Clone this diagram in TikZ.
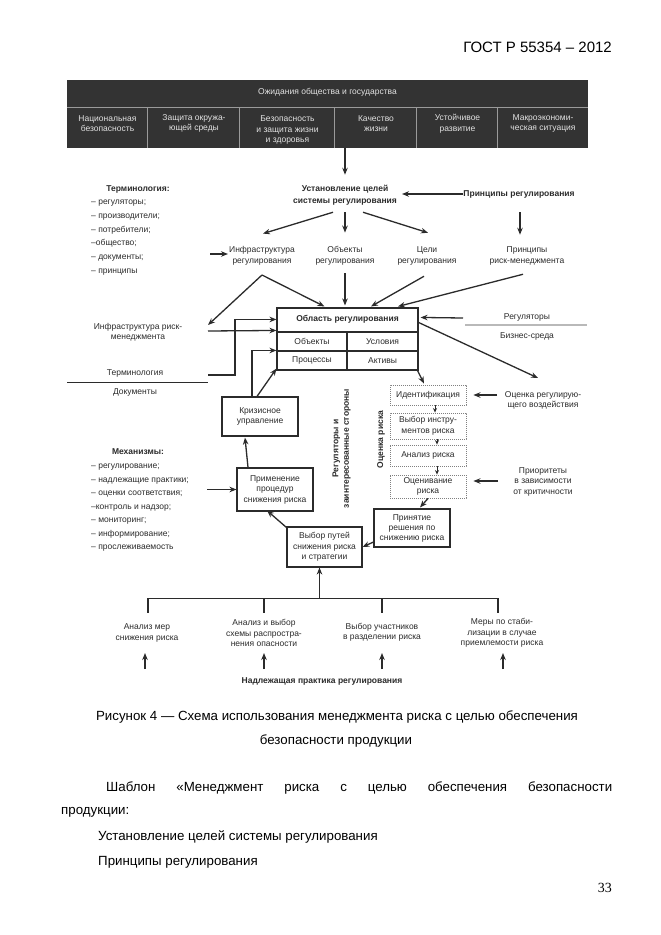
\documentclass[tikz,border=0pt]{standalone}
\usepackage{fontspec}
\setmainfont{Liberation Sans}
\newfontfamily\pagenumfont{Liberation Serif}
\usetikzlibrary{arrows.meta,calc}
\definecolor{ink}{HTML}{2B2B2B}
\definecolor{hdrfill}{HTML}{333333}
\definecolor{hdrtext}{HTML}{E2E2E2}
\definecolor{hdrline}{HTML}{9A9A9A}
\tikzset{
  dtxt/.style={font=\fontsize{8.5}{10.5}\selectfont, text=ink, inner sep=0pt, align=center},
  dbold/.style={dtxt, font=\bfseries\fontsize{8.5}{10.5}\selectfont},
  conn/.style={draw=ink, line width=1.3pt},
  arr/.style={conn, -{Stealth[length=7pt,width=5.5pt]}},
  sarr/.style={draw=ink, line width=1pt, -{Stealth[length=4.5pt,width=4pt]}},
  bx/.style={dtxt, draw=ink, line width=1.1pt},
  dbx/.style={dtxt, draw=black!50, line width=0.9pt, dash pattern=on 1.2pt off 0.8pt},
  htxt/.style={dtxt, text=hdrtext},
  pagetxt/.style={font=\fontsize{13.3}{16}\selectfont, text=black, inner sep=0pt},
}
\begin{document}
\begin{tikzpicture}[x=1pt,y=-1pt]
\useasboundingbox (0,0) rectangle (661,935);
\fill[white] (0,0) rectangle (661,935);

% page header
\node[pagetxt, font=\fontsize{15}{18}\selectfont, anchor=east] (gost) at (612,47) {ГОСТ Р 55354 – 2012};

% dark header table
\node[fill=hdrfill, minimum width=521pt, minimum height=68pt, inner sep=0pt] (hdr) at (327.5,114) {};
\draw[hdrline, line width=0.8pt] ($(hdr.north west)+(0,28)$) -- ($(hdr.north east)+(0,28)$);
\foreach \dx in {81,173,268,350,431}
  \draw[hdrline, line width=0.8pt] ($(hdr.north west)+(\dx,28)$) -- ($(hdr.south west)+(\dx,0)$);
\node[htxt] (hdrT) at (327.5,92.5) {Ожидания общества и государства};
\node[htxt] (h1) at (107.5,123.5) {Национальная\\безопасность};
\node[htxt] (h2) at (194,123.5) {Защита окружа-\\ющей среды};
\node[htxt] (h3) at (287.5,130) {Безопасность\\и защита жизни\\и здоровья};
\node[htxt] (h4) at (376,123.5) {Качество\\жизни};
\node[htxt] (h5) at (457.5,123.5) {Устойчивое\\развитие};
\node[htxt] (h6) at (543,123.5) {Макроэкономи-\\ческая ситуация};

% upper level
\node[dbold] (ust) at (345,195) {Установление целей\\[1.5pt]системы регулирования};
\node[dbold] (princReg) at (519,194) {Принципы регулирования};
\node[dtxt] (infReg) at (262,256) {Инфраструктура\\регулирования};
\node[dtxt] (objReg) at (345,256) {Объекты\\регулирования};
\node[dtxt] (celiReg) at (427,256) {Цели\\регулирования};
\node[dtxt] (princRM) at (527,256) {Принципы\\риск-менеджмента};

% terminology list
\node[dbold] (termTitle) at (138,189) {Терминология:};
\node[dtxt, font=\fontsize{8.5}{13.7}\selectfont, align=left, anchor=west] (termList) at (91,237.5)
  {– регуляторы;\\– производители;\\– потребители;\\–общество;\\– документы;\\– принципы};

\node[dtxt] (irm) at (138,332.5) {Инфраструктура риск-\\менеджмента};
\node[dtxt] (termT) at (135,373) {Терминология};
\node[dtxt] (docT) at (135,392) {Документы};

% scope of regulation box
\node[draw=ink, line width=1.1pt, minimum width=141pt, minimum height=62pt, inner sep=0pt] (obl) at (347.5,339) {};
\node[dbold] (oblT) at (347.5,319.5) {Область регулирования};
\node[bx, minimum width=70pt, minimum height=19pt] (objC) at (312,341.5) {Объекты};
\node[bx, minimum width=71pt, minimum height=19pt] (uslC) at (382.5,341.5) {Условия};
\node[bx, minimum width=70pt, minimum height=19pt] (procC) at (312,360.5) {Процессы};
\node[bx, minimum width=71pt, minimum height=19pt] (aktC) at (382.5,360.5) {Активы};

\node[dtxt] (regT) at (527,317) {Регуляторы};
\node[dtxt] (bizT) at (527,336) {Бизнес-среда};
\node[dtxt] (orv) at (543,400.5) {Оценка регулирую-\\щего воздействия};

% risk assessment
\node[dbx, minimum width=76pt, minimum height=20pt] (ident) at (428,395) {Идентификация};
\node[dbx, minimum width=76pt, minimum height=26pt] (vin) at (428,426) {Выбор инстру-\\ментов риска};
\node[dbx, minimum width=76pt, minimum height=21pt] (anr) at (428,455.5) {Анализ риска};
\node[dbx, minimum width=76pt, minimum height=23pt, font=\fontsize{8.5}{10}\selectfont] (ocr) at (428,486.5) {Оценивание\\риска};
\node[dtxt] (prio) at (543,481.5) {Приоритеты\\в зависимости\\от критичности};

\node[bx, minimum width=76pt, minimum height=39pt] (krz) at (260,416.5) {Кризисное\\управление};
\node[bx, minimum width=76pt, minimum height=43pt] (prim) at (275,489.5) {Применение\\процедур\\снижения риска};
\node[bx, minimum width=75pt, minimum height=40pt] (vyb) at (324.5,547) {Выбор путей\\снижения риска\\и стратегии};
\node[bx, minimum width=76pt, minimum height=38pt, font=\fontsize{8.5}{10}\selectfont] (prin) at (412,528) {Принятие\\решения по\\снижению риска};

\node[dbold, rotate=90] (regZS) at (341.5,448.5) {Регуляторы и\\заинтересованные стороны};
\node[dbold, rotate=90] (ocrT) at (381,439.5) {Оценка риска};

% mechanisms
\node[dbold] (mechTitle) at (138,452) {Механизмы:};
\node[dtxt, font=\fontsize{8.5}{13.5}\selectfont, align=left, anchor=west] (mechList) at (91,508)
  {– регулирование;\\– надлежащие практики;\\– оценки соответствия;\\–контроль и надзор;\\– мониторинг;\\– информирование;\\– прослеживаемость};

% bottom
\node[dtxt] (bA) at (147,633) {Анализ мер\\снижения риска};
\node[dtxt] (bB) at (264,633) {Анализ и выбор\\схемы распростра-\\нения опасности};
\node[dtxt] (bC) at (382,632.5) {Выбор участников\\в разделении риска};
\node[dtxt] (bD) at (502,633) {Меры по стаби-\\лизации в случае\\приемлемости риска};
\node[dbold] (npr) at (322,681) {Надлежащая практика регулирования};

% caption and body
\node[pagetxt] (cap1) at (337,717) {Рисунок 4 — Схема использования менеджмента риска с целью обеспечения};
\node[pagetxt] (cap2) at (336,741) {безопасности продукции};
\node[pagetxt, anchor=west] (body1) at (106,788) {\makebox[506pt][s]{Шаблон «Менеджмент риска с целью обеспечения безопасности}};
\node[pagetxt, anchor=west] (body2) at (61,812) {продукции:};
\node[pagetxt, anchor=west] (body3) at (98,837) {Установление целей системы регулирования};
\node[pagetxt, anchor=west] (body4) at (98,862) {Принципы регулирования};
\node[pagetxt, font=\pagenumfont\fontsize{14}{16}\selectfont, anchor=east] (pnum) at (612,888) {33};

% ---------- connectors ----------
\draw[arr] (hdr.south -| ust) -- ($(ust.north)+(0,-10)$);
\draw[arr] ($(princReg)+(-56,0)$) -- ($(ust)+(57,-1)$);
\draw[arr] ($(ust.south)+(0,7)$) -- ($(objReg.north)+(0,-14)$);
\draw[arr] ($(ust.south)+(18,7)$) -- ($(celiReg.north)+(1,-14)$);
\draw[arr] ($(ust.south)+(-12,7)$) -- ($(infReg.north)+(1,-13)$);
\draw[arr] ($(princReg.south)+(1,14)$) -- ($(princReg.south |- princRM.north)+(1,-12)$);
\draw[arr] ($(infReg)+(-52,-2)$) -- ($(infReg)+(-34,-2)$);

\coordinate (vtop) at ($(infReg)+(0,19)$);
\draw[arr] (vtop) -- ($(irm)+(70,-7.5)$);
\draw[arr] (vtop) -- ($(obl.north west)+(48,-1)$);
\draw[arr] ($(objReg.south)+(0,8)$) -- ($(objReg.south |- obl.north)+(0,-2)$);
\draw[arr] ($(celiReg.south)+(-3,11)$) -- ($(obl.north)+(23.5,-1)$);
\draw[arr] ($(princRM.south)+(-4,9)$) -- ($(obl.north)+(50.5,-1)$);

\draw[arr] ($(regT)+(-64,1)$) -- ($(obl.north east)+(2,10)$);
\draw[gray!55, line width=2pt] ($(regT)+(-62,8)$) -- ($(regT)+(60,8)$);
\draw[arr] ($(obl.north east)+(0,15)$) -- ($(orv)+(-5,-22.5)$);
\draw[arr] ($(orv)+(-46,-5.5)$) -- ($(ident.east)+(7,0)$);

\draw[arr] ($(termT)+(73,2)$) -- ++(27,0) |- ($(obl.north west)+(0,12)$);
\draw[ink, line width=0.9pt] ($(termT)+(-68,9)$) -- ++(141,0);
\draw[arr] ($(irm)+(70,-1.5)$) -- ($(obl.north west)+(0,23)$);
\draw[arr] ($(krz.north)+(-8,0)$) |- ($(obl.north west)+(0,43)$);
\draw[arr] ($(krz.north)+(-3,0)$) -- ($(obl.south west)+(0,-2)$);

\draw[arr] ($(obl.south east)+(-1,0)$) -- ($(ident.north)+(-4,-1)$);
\draw[sarr] ($(ident.south)+(7,0)$) -- ($(vin.north)+(7,0)$);
\draw[sarr] ($(vin.south)+(9,0)$) -- ($(anr.north)+(9,0)$);
\draw[sarr] ($(anr.south)+(9,0)$) -- ($(ocr.north)+(9,0)$);
\draw[arr] ($(prio)+(-45,-0.5)$) -- ($(ocr.east)+(7,-5.5)$);
\draw[arr] (ocr.south) -- ($(prin.north)+(8,-1)$);
\draw[arr] ($(prin.west)+(0,14)$) -- (vyb.east);
\draw[arr] ($(vyb.north west)+(0,1)$) -- ($(prim.south)+(-8,-1)$);
\draw[arr] ($(prim.west)+(-29,0)$) -- (prim.west);
\draw[arr] ($(prim.north)+(-27,0)$) -- ($(krz.south)+(-15,1)$);

\coordinate (brk) at ($(vyb.south)+(-5,31)$);
\draw[conn] ($(bA.north |- brk)+(1,14)$) -- ($(bA.north |- brk)+(1,0)$) -- ($(bD.north |- brk)+(-4,0)$) -- ++(0,14);
\draw[conn] (bB.north |- brk) -- ++(0,14);
\draw[conn] (bC.north |- brk) -- ++(0,14);
\draw[arr] (brk) -- ($(vyb.south)+(-5,0)$);

\draw[arr] ($(bA)+(-2,36)$) -- ++(0,-16);
\draw[arr] ($(bB)+(0,36)$) -- ++(0,-16);
\draw[arr] ($(bC)+(0,36.5)$) -- ++(0,-16);
\draw[arr] ($(bD)+(1,36)$) -- ++(0,-16);
\end{tikzpicture}
\end{document}
